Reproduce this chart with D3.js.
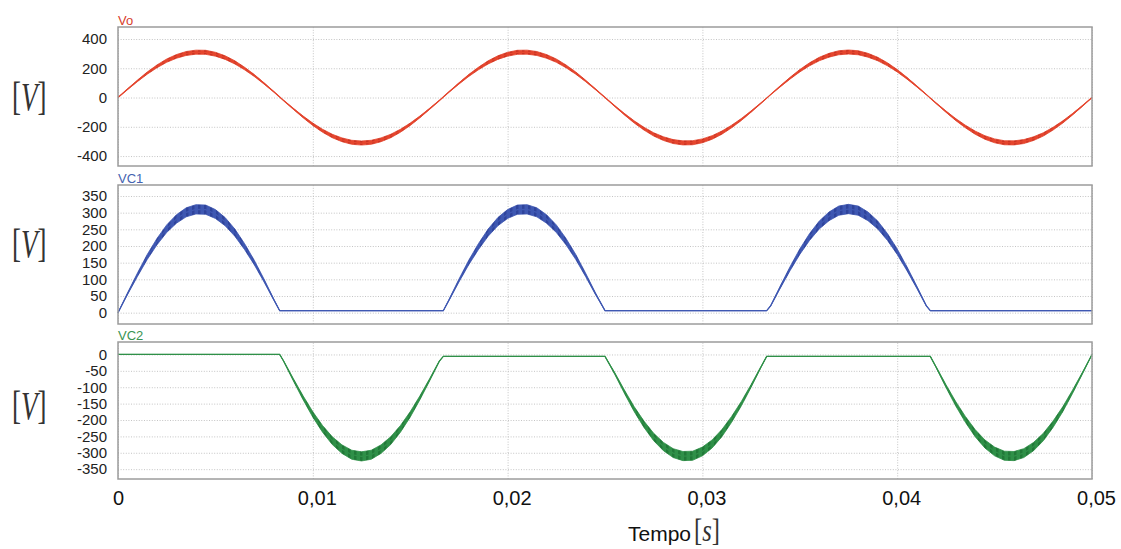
<!DOCTYPE html>
<html>
<head>
<meta charset="utf-8">
<title>Vo VC1 VC2</title>
<script src="https://cdn.jsdelivr.net/npm/d3@7"></script>
<style>
	body { margin: 0; background: #fff; }
	svg { display: block; }
</style>
</head>
<body>
<div id="chart"></div>
<script>
// sample times in ms (0.5 ms grid plus the switching instants)
var timeMs = [
	0,0.5,1,1.5,2,2.5,3,3.5,4,4.5,5,5.5,6,6.5,7,7.5,8, 8.3,
	8.5,9,9.5,10,10.5,11,11.5,12,12.5,13,13.5,14,14.5,15,15.5,16,16.5, 16.7,
	17,17.5,18,18.5,19,19.5,20,20.5,21,21.5,22,22.5,23,23.5,24,24.5,25,
	25.5,26,26.5,27,27.5,28,28.5,29,29.5,30,30.5,31,31.5,32,32.5,33, 33.3,
	33.5,34,34.5,35,35.5,36,36.5,37,37.5,38,38.5,39,39.5,40,40.5,41,41.5, 41.7,
	42,42.5,43,43.5,44,44.5,45,45.5,46,46.5,47,47.5,48,48.5,49,49.5,50
];

// output voltage [V]
var vo = [
	0,58,114,167,213,252,281,301,310,309,296,273,240,198,150,96,39, 4,
	-20,-77,-132,-183,-227,-263,-289,-306,-311,-306,-289,-263,-227,-183,-132,-77,-20, 4,
	39,96,150,198,240,273,296,309,310,301,281,252,213,167,114,58,0,
	-58,-114,-167,-213,-252,-281,-301,-310,-309,-296,-273,-240,-198,-150,-96,-39, -4,
	20,77,132,183,227,263,289,306,311,306,289,263,227,183,132,77,20, -4,
	-39,-96,-150,-198,-240,-273,-296,-309,-310,-301,-281,-252,-213,-167,-114,-58,0
];

// capacitor 1 [V]
var vc1 = [
	0,58,114,167,213,252,281,301,310,309,296,273,240,198,150,96,39, 6,
	6,6,6,6,6,6,6,6,6,6,6,6,6,6,6,6,6, 6,
	39,96,150,198,240,273,296,309,310,301,281,252,213,167,114,58,6,
	6,6,6,6,6,6,6,6,6,6,6,6,6,6,6,6, 6,
	20,77,132,183,227,263,289,306,311,306,289,263,227,183,132,77,20, 6,
	6,6,6,6,6,6,6,6,6,6,6,6,6,6,6,6,6
];

// capacitor 2 [V]
var vc2 = [
	0,0,0,0,0,0,0,0,0,0,0,0,0,0,0,0,0, 0,
	-20,-77,-132,-183,-227,-263,-289,-306,-311,-306,-289,-263,-227,-183,-132,-77,-20, -6,
	-6,-6,-6,-6,-6,-6,-6,-6,-6,-6,-6,-6,-6,-6,-6,-6,-6,
	-58,-114,-167,-213,-252,-281,-301,-310,-309,-296,-273,-240,-198,-150,-96,-39, -6,
	-6,-6,-6,-6,-6,-6,-6,-6,-6,-6,-6,-6,-6,-6,-6,-6,-6, -6,
	-39,-96,-150,-198,-240,-273,-296,-309,-310,-301,-281,-252,-213,-167,-114,-58,0
];

// switching ripple, peak-to-peak as a share of the instantaneous voltage
var rippleShare = 0.09;

var voTicks = [400, 200, 0, -200, -400];
var vc1Ticks = [350, 300, 250, 200, 150, 100, 50, 0];
var vc2Ticks = [0, -50, -100, -150, -200, -250, -300, -350];
var timeTicks = [0, 0.01, 0.02, 0.03, 0.04, 0.05];
var timeLabels = ["0", "0,01", "0,02", "0,03", "0,04", "0,05"];

var width = 1121, height = 549;
var plotLeft = 118, plotRight = 1092;
var sans = "'Liberation Sans', Arial, Helvetica, sans-serif";
var serif = "'Liberation Serif', 'Times New Roman', serif";

var panels = [
	{ name: "Vo", values: vo, ticks: voTicks, domain: [-468, 482], top: 27, bottom: 166,
	  color: "#e5462e", dark: "#b5221a", label: "#d8402c", unitBase: 110 },
	{ name: "VC1", values: vc1, ticks: vc1Ticks, domain: [-34, 383], top: 185, bottom: 324,
	  color: "#3f58b2", dark: "#23338a", label: "#4463b0", unitBase: 257 },
	{ name: "VC2", values: vc2, ticks: vc2Ticks, domain: [-380, 38], top: 342, bottom: 479,
	  color: "#2f9048", dark: "#16652c", label: "#3a9452", unitBase: 419 }
];

var svg = d3.select("#chart").append("svg")
	.attr("width", width)
	.attr("height", height);

var defs = svg.append("defs");

var x = d3.scaleLinear().domain([0, 0.05]).range([plotLeft, plotRight]);

// bracketed unit like LaTeX [V]: one text, stretched vertically
function unitLabel(xs, base, size, stretch, letter) {
	var t = svg.append("text")
		.attr("transform", "translate(" + xs + "," + base + ") scale(1," + stretch + ")")
		.attr("font-family", serif)
		.attr("font-size", size)
		.attr("fill", "#333");
	t.append("tspan").text("[");
	t.append("tspan").attr("font-style", "italic").text(letter);
	t.append("tspan").text("]");
}

panels.forEach(function(p, pi) {
	var y = d3.scaleLinear().domain(p.domain).range([p.bottom, p.top]);
	var g = svg.append("g").attr("class", "panel");

	// dotted grid
	var hGrid = g.append("g")
		.attr("transform", "translate(" + plotLeft + ",0)")
		.call(d3.axisLeft(y).tickValues(p.ticks).tickSize(-(plotRight - plotLeft)).tickFormat(""));
	var vGrid = g.append("g")
		.attr("transform", "translate(0," + p.bottom + ")")
		.call(d3.axisBottom(x).tickValues(timeTicks).tickSize(-(p.bottom - p.top)).tickFormat(""));
	[hGrid, vGrid].forEach(function(gr) {
		gr.select(".domain").remove();
		gr.selectAll("line")
			.attr("stroke", "#c4c4c4")
			.attr("stroke-width", 1)
			.attr("stroke-dasharray", "1,1.6");
	});

	// stripes for the ripple band
	var pat = defs.append("pattern")
		.attr("id", "stripes" + pi)
		.attr("patternUnits", "userSpaceOnUse")
		.attr("width", 6).attr("height", 6);
	pat.append("rect").attr("width", 2.5).attr("height", 6).attr("fill", p.dark).attr("opacity", 0.55);

	var pts = timeMs.map(function(t, i) { return { t: t / 1000, v: p.values[i] }; });

	var band = d3.area()
		.x(function(d) { return x(d.t); })
		.y0(function(d) { return y(d.v - Math.abs(d.v) * rippleShare / 2); })
		.y1(function(d) { return y(d.v + Math.abs(d.v) * rippleShare / 2); });

	var centre = d3.line()
		.x(function(d) { return x(d.t); })
		.y(function(d) { return y(d.v); });

	g.append("path").datum(pts)
		.attr("d", band)
		.attr("fill", p.color)
		.attr("stroke", p.color)
		.attr("stroke-width", 0.8);
	g.append("path").datum(pts)
		.attr("d", band)
		.attr("fill", "url(#stripes" + pi + ")");
	g.append("path").datum(pts)
		.attr("d", centre)
		.attr("fill", "none")
		.attr("stroke", p.color)
		.attr("stroke-width", 1.2);

	// frame
	g.append("rect")
		.attr("x", plotLeft).attr("y", p.top)
		.attr("width", plotRight - plotLeft).attr("height", p.bottom - p.top)
		.attr("fill", "none")
		.attr("stroke", "#9c9c9c")
		.attr("stroke-width", 1.5);

	// y tick labels (plain hyphen for negatives, as in the original)
	var yAxis = g.append("g")
		.attr("transform", "translate(" + plotLeft + ",0)")
		.call(d3.axisLeft(y).tickValues(p.ticks).tickSize(0).tickPadding(11)
			.tickFormat(function(d) { return String(d); }));
	yAxis.select(".domain").remove();
	yAxis.selectAll("text")
		.attr("font-family", sans)
		.attr("font-size", 15)
		.attr("fill", "#222");

	// signal name
	g.append("text")
		.attr("x", plotLeft)
		.attr("y", p.top - 2)
		.attr("font-family", sans)
		.attr("font-size", 13)
		.attr("fill", p.label)
		.text(p.name);

	unitLabel(12, p.unitBase, 27, 1.45, "V");
});

// time axis labels under the last panel
var last = panels[panels.length - 1];
var xAxis = svg.append("g")
	.attr("transform", "translate(0," + last.bottom + ")")
	.call(d3.axisBottom(x).tickValues(timeTicks).tickSize(0).tickPadding(12)
		.tickFormat(function(d, i) { return timeLabels[i]; }));
xAxis.select(".domain").remove();
xAxis.selectAll("text")
	.attr("font-family", sans)
	.attr("font-size", 20)
	.attr("fill", "#111")
	.attr("dx", function(d, i) { return i === 0 ? 0 : 4; });

svg.append("text")
	.attr("x", 628)
	.attr("y", 541)
	.attr("font-family", sans)
	.attr("font-size", 21)
	.attr("fill", "#111")
	.text("Tempo");

unitLabel(694, 541, 24.5, 1.28, "s");
</script>
</body>
</html>
